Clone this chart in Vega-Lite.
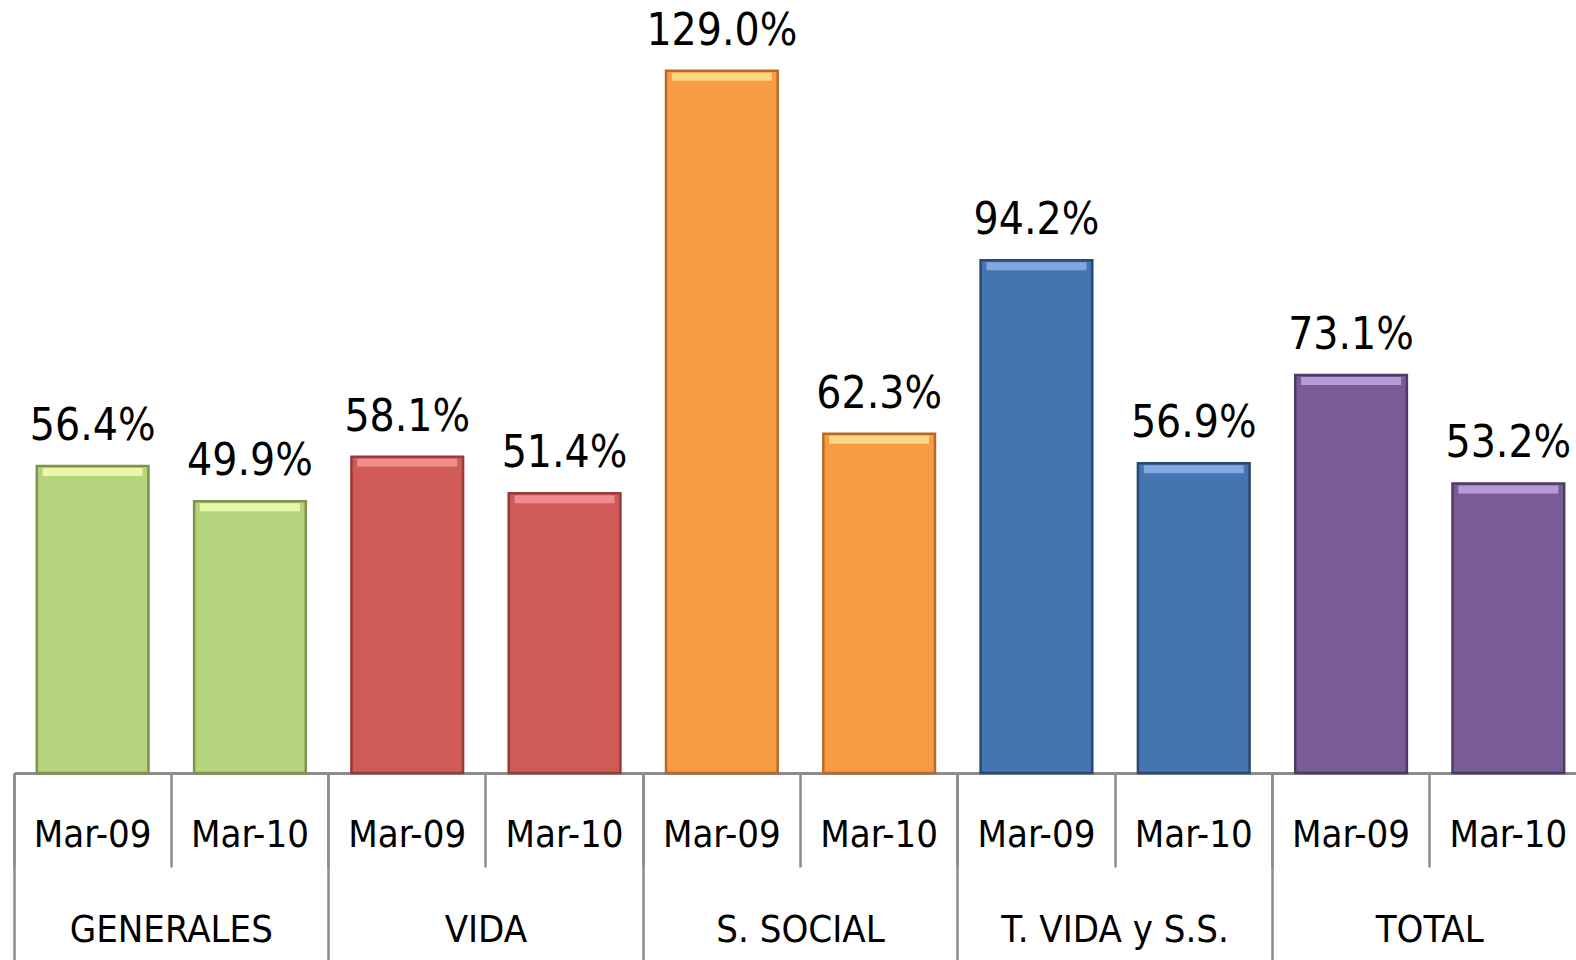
{
  "$schema": "https://vega.github.io/schema/vega-lite/v6.json",
  "autosize": {"type": "none"},
  "width": 1573,
  "height": 773,
  "padding": {"left": 14, "top": 0, "right": 0, "bottom": 187},
  "background": "white",
  "config": {
    "view": {"stroke": null},
    "font": "DejaVu Sans Condensed, Liberation Sans Narrow, sans-serif"
  },
  "data": {
    "values": [
      {"bar": "GENERALES|Mar-09", "group": "GENERALES", "value": 0.564},
      {"bar": "GENERALES|Mar-10", "group": "GENERALES", "value": 0.499},
      {"bar": "VIDA|Mar-09", "group": "VIDA", "value": 0.581},
      {"bar": "VIDA|Mar-10", "group": "VIDA", "value": 0.514},
      {"bar": "S. SOCIAL|Mar-09", "group": "S. SOCIAL", "value": 1.29},
      {"bar": "S. SOCIAL|Mar-10", "group": "S. SOCIAL", "value": 0.623},
      {"bar": "T. VIDA y S.S.|Mar-09", "group": "T. VIDA y S.S.", "value": 0.942},
      {"bar": "T. VIDA y S.S.|Mar-10", "group": "T. VIDA y S.S.", "value": 0.569},
      {"bar": "TOTAL|Mar-09", "group": "TOTAL", "value": 0.731},
      {"bar": "TOTAL|Mar-10", "group": "TOTAL", "value": 0.532}
    ]
  },
  "layer": [
    {
      "encoding": {
        "x": {
          "field": "bar", "type": "nominal", "sort": null,
          "scale": {"paddingInner": 0, "paddingOuter": 0},
          "axis": {
            "title": null, "orient": "bottom",
            "labelExpr": "split(datum.label, '|')[1]",
            "labelAngle": 0, "labelFontSize": 38, "labelColor": "#000000", "labelLimit": 0,
            "labelBaseline": "middle", "labelPadding": -32,
            "bandPosition": 0, "tickSize": 94, "tickWidth": 2.5, "tickColor": "#8c8c8c",
            "domainColor": "#8c8c8c", "domainWidth": 3, "grid": false
          }
        },
        "y": {
          "field": "value", "type": "quantitative",
          "scale": {"domain": [0, 1.42], "nice": false},
          "axis": null
        }
      },
      "layer": [
        {
          "mark": {"type": "bar", "width": {"band": 0.71}, "strokeWidth": 2.5},
          "encoding": {
            "color": {
              "field": "group", "type": "nominal", "legend": null,
              "scale": {
                "domain": ["GENERALES", "VIDA", "S. SOCIAL", "T. VIDA y S.S.", "TOTAL"],
                "range": ["#b6d37d", "#cf5a58", "#f89c43", "#4575b0", "#795c96"]
              }
            },
            "stroke": {
              "field": "group", "type": "nominal", "legend": null,
              "scale": {
                "domain": ["GENERALES", "VIDA", "S. SOCIAL", "T. VIDA y S.S.", "TOTAL"],
                "range": ["#7d944a", "#963b39", "#b86a25", "#2a4a72", "#4f3a66"]
              }
            }
          }
        },
        {
          "mark": {"type": "tick", "size": 100, "thickness": 8, "yOffset": 6, "opacity": 1},
          "encoding": {
            "fill": {
              "field": "group", "type": "nominal", "legend": null,
              "scale": {
                "domain": ["GENERALES", "VIDA", "S. SOCIAL", "T. VIDA y S.S.", "TOTAL"],
                "range": ["#eaf7a8", "#f08d8c", "#ffd682", "#7fa9e0", "#b79ad8"]
              }
            }
          }
        },
        {
          "mark": {"type": "text", "baseline": "alphabetic", "align": "center", "dy": -26, "fontSize": 44, "color": "#000000"},
          "encoding": {
            "text": {"field": "value", "type": "quantitative", "format": ".1%"}
          }
        }
      ]
    },
    {
      "mark": {"type": "bar", "opacity": 0},
      "encoding": {
        "x": {
          "field": "group", "type": "nominal", "sort": null,
          "scale": {"paddingInner": 0, "paddingOuter": 0},
          "axis": {
            "title": null, "orient": "bottom",
            "labelAngle": 0, "labelFontSize": 38, "labelColor": "#000000", "labelLimit": 0,
            "labelBaseline": "middle", "labelPadding": -30,
            "bandPosition": 0, "tickSize": 187, "tickWidth": 2.5, "tickColor": "#8c8c8c",
            "domain": false, "grid": false
          }
        },
        "y": {"field": "value", "type": "quantitative"}
      }
    }
  ],
  "resolve": {"scale": {"x": "independent", "stroke": "independent", "fill": "independent"}, "axis": {"x": "independent"}}
}
